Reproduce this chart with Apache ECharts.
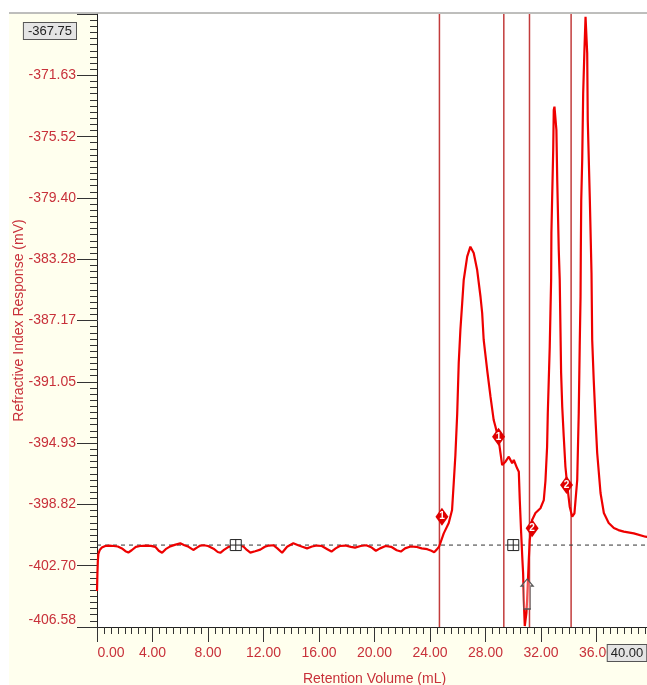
<!DOCTYPE html>
<html>
<head>
<meta charset="utf-8">
<script src="https://cdn.jsdelivr.net/npm/echarts@6/dist/echarts.min.js"></script>
<style>
  html, body { margin: 0; padding: 0; background: #fff; }
  #chart {
    position: absolute; left: 0; top: 0; width: 647px; height: 685px;
    background:
      linear-gradient(#fff, #fff) top left / 100% 13px no-repeat,
      linear-gradient(#fff, #fff) top left / 9px 100% no-repeat,
      #ffffee;
  }
</style>
</head>
<body>
<div id="chart"></div>
<script>
// Refractive-index trace (retention volume in mL, response in mV)
const retentionVolume = [
  0.00, 0.03, 0.06, 0.10, 0.20, 0.35, 0.60, 0.90, 1.20, 1.50,
  1.80, 2.05, 2.26, 2.50, 2.80, 3.10, 3.50, 3.90, 4.20, 4.45,
  4.69, 4.95, 5.28, 5.60, 6.00, 6.30, 6.60, 6.94, 7.20, 7.45,
  7.70, 8.00, 8.40, 8.70, 8.89, 9.15, 9.40, 9.61, 9.90, 10.20,
  10.55, 10.80, 11.05, 11.40, 11.77, 12.10, 12.40, 12.71, 13.00, 13.34,
  13.70, 14.15, 14.50, 14.80, 15.14, 15.50, 15.86, 16.20, 16.60, 16.90,
  17.20, 17.50, 17.90, 18.30, 18.60, 19.00, 19.40, 19.80, 20.10, 20.40,
  20.80, 21.20, 21.60, 21.90, 22.20, 22.60, 23.00, 23.40, 23.80, 24.10,
  24.30, 24.48, 24.65, 24.99, 25.35, 25.59, 25.71, 25.83, 25.96, 26.07,
  26.19, 26.32, 26.43, 26.68, 26.91, 27.15, 27.40, 27.64, 27.76, 27.87,
  28.12, 28.36, 28.59, 28.72, 28.95, 29.20, 29.44, 29.68, 29.92, 30.04,
  30.28, 30.40, 30.47, 30.57, 30.66, 30.71, 30.76, 30.83, 30.88, 30.95,
  31.00, 31.12, 31.19, 31.36, 31.60, 31.96, 32.20, 32.32, 32.44, 32.49,
  32.56, 32.63, 32.68, 32.73, 32.75, 32.80, 32.88, 32.92, 32.97, 33.11,
  33.17, 33.28, 33.35, 33.45, 33.53, 33.64, 33.76, 33.89, 34.07, 34.25,
  34.41, 34.61, 34.72, 34.79, 34.85, 34.87, 34.90, 34.97, 35.04, 35.13,
  35.21, 35.33, 35.37, 35.52, 35.64, 35.69, 35.80, 35.93, 36.05, 36.29,
  36.53, 36.88, 37.25, 37.58, 37.97, 38.69, 39.53, 40.00
];
const riResponse = [
  -404.30, -403.20, -402.40, -401.95, -401.70, -401.55, -401.45, -401.42, -401.45, -401.48,
  -401.60, -401.78, -401.86, -401.72, -401.50, -401.45, -401.42, -401.44, -401.50, -401.75,
  -401.88, -401.65, -401.47, -401.38, -401.28, -401.40, -401.50, -401.70, -401.55, -401.42,
  -401.40, -401.45, -401.62, -401.83, -401.88, -401.70, -401.55, -401.47, -401.42, -401.45,
  -401.48, -401.70, -401.87, -401.78, -401.68, -401.50, -401.42, -401.40, -401.60, -401.88,
  -401.50, -401.28, -401.40, -401.50, -401.60, -401.48, -401.42, -401.45, -401.65, -401.80,
  -401.60, -401.45, -401.42, -401.50, -401.55, -401.45, -401.40, -401.55, -401.75, -401.60,
  -401.45, -401.50, -401.72, -401.80, -401.60, -401.48, -401.50, -401.60, -401.65, -401.75,
  -401.84, -401.68, -401.50, -400.65, -399.99, -399.17, -397.46, -395.69, -393.09, -389.86,
  -387.77, -386.06, -384.60, -383.12, -382.49, -382.89, -383.97, -385.66, -386.69, -388.40,
  -390.30, -391.99, -393.47, -393.89, -394.74, -396.32, -396.11, -395.79, -396.21, -396.00,
  -396.53, -396.74, -398.54, -400.63, -402.34, -403.16, -404.87, -406.52, -406.55, -405.69,
  -404.87, -402.34, -401.07, -399.80, -399.36, -399.06, -398.54, -397.33, -395.16, -393.03,
  -390.93, -388.82, -386.69, -384.60, -381.62, -379.53, -376.37, -373.83, -373.62, -375.10,
  -378.27, -382.70, -384.60, -390.49, -392.63, -394.53, -396.43, -397.59, -398.96, -399.59,
  -399.38, -397.27, -393.04, -388.82, -385.66, -382.70, -379.53, -377.00, -372.77, -370.03,
  -367.92, -370.24, -374.46, -379.53, -384.16, -388.40, -390.93, -393.47, -395.56, -398.09,
  -399.36, -399.99, -400.31, -400.44, -400.54, -400.65, -400.86, -400.90
];

// Axis ticks
const yTickValues = [-406.58, -402.70, -398.82, -394.93, -391.05, -387.17, -383.28, -379.40, -375.52, -371.63, -367.75];
const yTickLabels = ['-406.58', '-402.70', '-398.82', '-394.93', '-391.05', '-387.17', '-383.28', '-379.40', '-375.52', '-371.63', '-367.75'];
const xTickValues = [0, 4, 8, 12, 16, 20, 24, 28, 32, 36, 40];
const xTickLabels = ['0.00', '4.00', '8.00', '12.00', '16.00', '20.00', '24.00', '28.00', '32.00', '36.00', '40.00'];

// Integration limits (vertical dividers) and baseline
const dividerVolumes = [24.68, 29.32, 31.17, 34.17];
const baselineResponse = -401.39;
const baselineAnchorVolumes = [10.0, 30.0];

// Peak start/end flags
const peakFlagVolume = [24.86, 28.94, 31.36, 33.84];
const peakFlagResponse = [-399.59, -394.53, -400.33, -397.59];
const peakFlagIds = ['1', '1', '2', '2'];

// Cursor arrow
const cursorVolume = 31.0;
const cursorResponse = -403.54;

const Y_MIN = yTickValues[0];
const Y_MAX = yTickValues[yTickValues.length - 1];
const X_MIN = xTickValues[0];
const X_MAX = xTickValues[xTickValues.length - 1];
const yMinorTicks = [];
for (let i = 0; i <= 100; i++) yMinorTicks.push(Y_MIN + (Y_MAX - Y_MIN) * i / 100);

const red = '#c8313a';
const dividerColor = '#c23b3b';
const font = "'Liberation Sans', Arial, sans-serif";
const boxStyle = { color: '#222', fontSize: 13, fontFamily: font, backgroundColor: '#e4e4e4', borderColor: '#555', borderWidth: 1 };

function nearestIndex(arr, v) {
  let best = 0;
  for (let i = 1; i < arr.length; i++) {
    if (Math.abs(arr[i] - v) < Math.abs(arr[best] - v)) best = i;
  }
  return best;
}

// Range ends are pulled inside the plot; the top value sits in a box
function yLabel(value) {
  const i = nearestIndex(yTickValues, value);
  const s = yTickLabels[i];
  if (i === yTickValues.length - 1) return '{gap| }\n{box|' + s + '}';
  if (i === 0) return '{t|' + s + '}\n{gap2| }';
  return s;
}

function xLabel(value) {
  const i = nearestIndex(xTickValues, value);
  const s = xTickLabels[i];
  if (i === 0) return '{lpad| }{t|' + s + '}';
  if (i === xTickValues.length - 1) return '';
  return s;
}

function xEndLabel(value) {
  const i = nearestIndex(xTickValues, value);
  return '{box|' + xTickLabels[i] + '}{rpad| }';
}

const trace = retentionVolume.map((v, i) => [v, riResponse[i]]);

// One vertical line series per integration limit
const dividerSeries = dividerVolumes.map((v, i) => ({
  name: 'limit ' + (i + 1), type: 'line', z: 1, silent: true,
  data: [[v, Y_MIN], [v, Y_MAX]],
  showSymbol: false, symbol: 'none',
  lineStyle: { color: dividerColor, width: 1.5, opacity: 1 },
  emphasis: { disabled: true }
}));

// Horizontal dashed baseline across the full run
const baselineSeries = {
  name: 'baseline', type: 'line', z: 2, silent: true,
  data: [[X_MIN, baselineResponse], [X_MAX, baselineResponse]],
  showSymbol: false, symbol: 'none',
  lineStyle: { color: '#333', width: 1, type: [4, 4] },
  emphasis: { disabled: true }
};

const chart = echarts.init(document.getElementById('chart'), null, { renderer: 'canvas' });

chart.setOption({
  animation: false,
  backgroundColor: 'transparent',
  textStyle: { fontFamily: font },
  grid: {
    left: 97, top: 14, right: -5, bottom: 58,
    outerBoundsMode: 'none', containLabel: false,
    show: true, backgroundColor: '#ffffff', borderWidth: 0
  },
  graphic: [
    { type: 'line', shape: { x1: 9, y1: 13, x2: 647, y2: 13 }, style: { stroke: '#a8a8a8', lineWidth: 1.5 }, z: 10 }
  ],
  xAxis: [
    {
      type: 'value', min: X_MIN, max: X_MAX, interval: 4, position: 'bottom',
      axisLine: { show: true, onZero: false, lineStyle: { color: '#222', width: 1 } },
      axisTick: { show: true, length: 15, lineStyle: { color: '#333' } },
      minorTick: { show: true, splitNumber: 8, length: 7, lineStyle: { color: '#333' } },
      splitLine: { show: false },
      minorSplitLine: { show: false },
      axisLabel: {
        margin: 19, color: red, fontSize: 14, fontFamily: font, formatter: xLabel,
        showMinLabel: true, showMaxLabel: true, hideOverlap: false,
        rich: {
          lpad: { width: 28, fontSize: 1 },
          t: { color: red, fontSize: 14, fontFamily: font }
        }
      },
      name: 'Retention Volume (mL)', nameLocation: 'middle', nameGap: 45,
      nameTextStyle: { color: red, fontSize: 14, fontFamily: font }
    },
    {
      type: 'value', min: X_MIN, max: X_MAX, position: 'bottom', offset: 0,
      axisLine: { show: false, onZero: false },
      axisTick: { show: false },
      splitLine: { show: false },
      axisLabel: {
        customValues: [X_MAX], showMaxLabel: true, hideOverlap: false,
        margin: 18, fontFamily: font, formatter: xEndLabel,
        rich: {
          rpad: { width: 50, fontSize: 1 },
          box: Object.assign({ padding: [2, 3, 1, 3] }, boxStyle)
        }
      }
    }
  ],
  yAxis: [
    {
      type: 'value', min: Y_MIN, max: Y_MAX, position: 'left',
      axisLine: { show: true, onZero: false, lineStyle: { color: '#222', width: 1 } },
      axisTick: { show: true, customValues: yMinorTicks, length: 7, lineStyle: { color: '#333' } },
      axisLabel: { show: false },
      splitLine: { show: false },
      name: 'Refractive Index Response (mV)', nameLocation: 'middle', nameGap: 71,
      nameTextStyle: { color: red, fontSize: 14, fontFamily: font }
    },
    {
      type: 'value', min: Y_MIN, max: Y_MAX, position: 'left', offset: 0,
      axisLine: { show: false, onZero: false },
      axisTick: { show: true, customValues: yTickValues, length: 20, lineStyle: { color: '#333' } },
      splitLine: { show: false },
      axisLabel: {
        customValues: yTickValues, showMinLabel: true, showMaxLabel: true, hideOverlap: false,
        margin: 21, color: red, fontSize: 14, fontFamily: font, formatter: yLabel,
        rich: {
          gap: { fontSize: 1, lineHeight: 34 },
          gap2: { fontSize: 1, lineHeight: 14 },
          t: { color: red, fontSize: 14, lineHeight: 16, fontFamily: font },
          box: Object.assign({ padding: [2, 4, 1, 4] }, boxStyle)
        }
      }
    }
  ],
  series: dividerSeries.concat([
    baselineSeries,
    {
      name: 'RI', type: 'line', data: trace, z: 3,
      showSymbol: false, smooth: false,
      lineStyle: { color: '#ee0000', width: 2.2 },
      emphasis: { disabled: true }
    },
    {
      name: 'cursor', type: 'scatter', z: 4, silent: true,
      data: [[cursorVolume, cursorResponse]],
      symbol: 'path://M6,0 L12,7 L9.5,7 L9.5,30 L2.5,30 L2.5,7 L0,7 Z',
      symbolSize: [12, 30], symbolOffset: [0, '50%'],
      itemStyle: { color: 'rgba(255,255,255,0.3)', borderColor: '#555', borderWidth: 1, opacity: 1 }
    },
    {
      name: 'baseline anchors', type: 'scatter', z: 4, silent: true,
      data: baselineAnchorVolumes.map(v => [v, baselineResponse]),
      symbol: 'path://M0,0 L10,0 L10,10 L0,10 Z M5,0 L5,10 M0,5 L10,5',
      symbolSize: 11,
      itemStyle: { color: '#ffffff', borderColor: '#222', borderWidth: 1, opacity: 1 }
    },
    {
      name: 'peak flags', type: 'scatter', z: 5, silent: true,
      data: peakFlagVolume.map((v, i) => [v, peakFlagResponse[i], peakFlagIds[i]]),
      symbol: 'diamond', symbolSize: [13, 18],
      itemStyle: { color: '#e00000', opacity: 1 },
      label: { show: true, position: 'inside', formatter: p => p.value[2], color: '#fff', fontSize: 10, fontWeight: 'bold', fontFamily: font }
    }
  ])
});
</script>
</body>
</html>
